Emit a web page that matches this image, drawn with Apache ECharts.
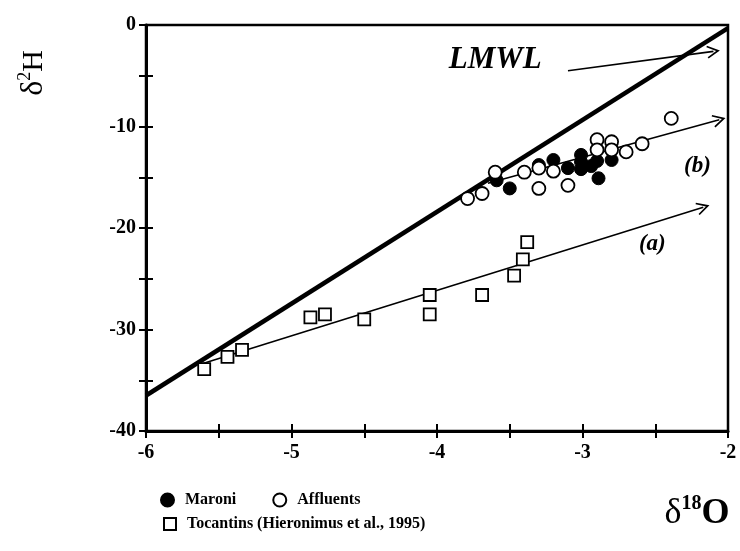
<!DOCTYPE html>
<html>
<head>
<meta charset="utf-8">
<script src="https://cdn.jsdelivr.net/npm/echarts@6/dist/echarts.min.js"></script>
<style>
html,body{margin:0;padding:0;background:#fff}
#chart{width:740px;height:551px}
</style>
</head>
<body>
<div id="chart"></div>
<script>
// δ18O / δ2H pairs per sample group
const maroni = [
  [-3.59,-15.3],[-3.50,-16.1],[-3.30,-13.8],[-3.20,-13.3],[-3.10,-14.1],
  [-3.01,-12.8],[-3.01,-13.5],[-3.01,-14.2],[-2.94,-13.9],[-2.90,-13.4],
  [-2.89,-15.1],[-2.80,-13.3]
];
const affluents = [
  [-3.79,-17.1],[-3.69,-16.6],[-3.60,-14.5],[-3.40,-14.5],[-3.30,-14.1],
  [-3.30,-16.1],[-3.20,-14.4],[-3.10,-15.8],[-2.90,-11.3],[-2.90,-12.3],
  [-2.80,-11.5],[-2.80,-12.3],[-2.70,-12.5],[-2.59,-11.7],[-2.39,-9.2]
];
const tocantins = [
  [-5.60,-33.9],[-5.44,-32.7],[-5.34,-32.0],[-4.87,-28.8],[-4.77,-28.5],
  [-4.50,-29.0],[-4.05,-26.6],[-4.05,-28.5],[-3.69,-26.6],[-3.47,-24.7],
  [-3.41,-23.1],[-3.38,-21.4]
];

// reference lines
const lmwl = [[-6,-36.5],[-2,-0.3]];
const trendA = [[-5.62,-33.4],[-2.17,-17.95]];
const trendB = [[-3.65,-15.6],[-2.06,-9.33]];
const lmwlPointer = [[-3.10,-4.5],[-2.10,-2.6]];

// annotation texts at data positions
const curveLabels = [[-2.21,-13.9,'(b)'],[-2.52,-21.6,'(a)']];
const lmwlLabel = [[-3.60,-3.45,'LMWL']];

// axis tick labels
const xLabels = [-6,-5,-4,-3,-2];
const yLabels = [0,-10,-20,-30,-40];

const SERIF = '"Liberation Serif","DejaVu Serif",serif';
const chevron = 'path://M6,0 L12,11 L10.6,11.7 L6,3.4 L1.4,11.7 L0,11 Z';

const chart = echarts.init(document.getElementById('chart'), null, {renderer:'canvas'});

const labelStyle = {
  fontFamily: SERIF, fontWeight: 'bold', fontSize: 20, color: '#000'
};

function xAxisDef(inside) {
  return {
    type: 'value', min: -6, max: -2, interval: 0.5, position: 'bottom',
    axisLine: {show: !inside, onZero: false, lineStyle: {color: '#000', width: 3}},
    axisTick: {show: true, inside: inside, length: 7, lineStyle: {color: '#000', width: 2}},
    axisLabel: inside ? {show: false} : Object.assign({
      margin: 12,
      formatter: v => xLabels.includes(v) ? String(v) : ''
    }, labelStyle),
    splitLine: {show: false}
  };
}
function yAxisDef(inside) {
  return {
    type: 'value', min: -40, max: 0, interval: 5, position: 'left',
    axisLine: {show: !inside, onZero: false, lineStyle: {color: '#000', width: 3}},
    axisTick: {show: true, inside: inside, length: 7, lineStyle: {color: '#000', width: 2}},
    axisLabel: inside ? {show: false} : Object.assign({
      margin: 10,
      formatter: v => yLabels.includes(v) ? String(v) : ''
    }, labelStyle),
    splitLine: {show: false}
  };
}

const legendText = {fontFamily: SERIF, fontWeight: 'bold', fontSize: 16, color: '#000', padding: [0,0,0,6]};
const annot = {fontFamily: SERIF, fontStyle: 'italic', fontWeight: 'bold', color: '#000', opacity: 1};

chart.setOption({
  animation: false,
  backgroundColor: '#fff',
  grid: {left: 146, right: 12, top: 25, bottom: 120, show: true, borderColor: '#000', borderWidth: 2.5, backgroundColor: 'transparent'},
  xAxis: [xAxisDef(false), xAxisDef(true)],
  yAxis: [yAxisDef(false), yAxisDef(true)],
  legend: [
    {
      data: ['Maroni', 'Affluents'], left: 155, top: 487, orient: 'horizontal',
      itemGap: 36, itemWidth: 13, itemHeight: 13, selectedMode: false,
      textStyle: legendText
    },
    {
      data: ['Tocantins (Hieronimus et al., 1995)'], left: 158, top: 511,
      itemWidth: 12, itemHeight: 12, selectedMode: false,
      textStyle: legendText
    }
  ],
  series: [
    {
      name: 'LMWL', type: 'line', data: lmwl, symbol: 'none', silent: true,
      lineStyle: {color: '#000', width: 4.5}, z: 3
    },
    {
      type: 'lines', coordinateSystem: 'cartesian2d', silent: true,
      symbol: ['none', chevron], symbolSize: [11, 13],
      lineStyle: {color: '#000', width: 1.6, opacity: 1},
      data: [{coords: trendA}, {coords: trendB}, {coords: lmwlPointer}], z: 3
    },
    {
      name: 'Tocantins (Hieronimus et al., 1995)', type: 'scatter', data: tocantins,
      symbol: 'rect', symbolSize: 12,
      itemStyle: {color: '#fff', borderColor: '#000', borderWidth: 1.8, opacity: 1}, z: 4
    },
    {
      name: 'Maroni', type: 'scatter', data: maroni, symbol: 'circle', symbolSize: 13,
      itemStyle: {color: '#000', borderColor: '#000', borderWidth: 1, opacity: 1}, z: 4
    },
    {
      name: 'Affluents', type: 'scatter', data: affluents, symbol: 'circle', symbolSize: 13,
      itemStyle: {color: '#fff', borderColor: '#000', borderWidth: 1.8, opacity: 1}, z: 5
    },
    {
      type: 'scatter', data: curveLabels, symbolSize: 0, silent: true, z: 6,
      itemStyle: {opacity: 1},
      label: Object.assign({show: true, position: 'inside', formatter: p => p.data[2], fontSize: 23}, annot)
    },
    {
      type: 'scatter', data: lmwlLabel, symbolSize: 0, silent: true, z: 6,
      itemStyle: {opacity: 1},
      label: Object.assign({show: true, position: 'inside', formatter: p => p.data[2], fontSize: 31}, annot)
    }
  ],
  graphic: [
    {
      type: 'text', x: 34, y: 73, rotation: Math.PI / 2,
      style: {
        text: '{d|δ}{s|2}{h|H}', align: 'center', verticalAlign: 'middle',
        rich: {
          d: {fontFamily: SERIF, fontSize: 32, lineHeight: 36, fill: '#000'},
          s: {fontFamily: SERIF, fontSize: 18, lineHeight: 36, verticalAlign: 'top', fill: '#000'},
          h: {fontFamily: SERIF, fontSize: 30, lineHeight: 36, fill: '#000'}
        }
      }
    },
    {
      type: 'text', x: 697, y: 514,
      style: {
        text: '{d|δ}{s|18}{o|O}', align: 'center', verticalAlign: 'middle',
        rich: {
          d: {fontFamily: SERIF, fontSize: 36, lineHeight: 40, fill: '#000'},
          s: {fontFamily: SERIF, fontSize: 20, fontWeight: 'bold', lineHeight: 40, verticalAlign: 'top', fill: '#000'},
          o: {fontFamily: SERIF, fontSize: 36, fontWeight: 'bold', lineHeight: 40, fill: '#000'}
        }
      }
    }
  ]
});
</script>
</body>
</html>
